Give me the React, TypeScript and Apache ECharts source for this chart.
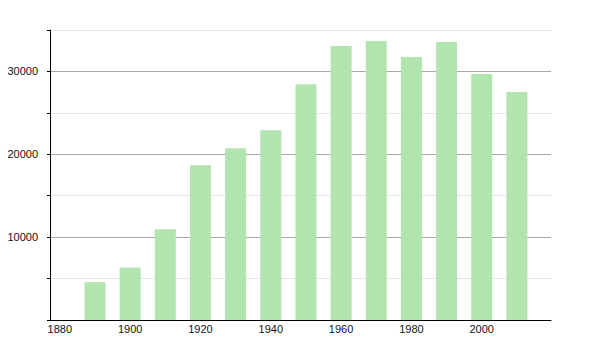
import React, { useEffect, useRef } from "react";
import * as echarts from "echarts";

const years = [1890, 1900, 1910, 1920, 1930, 1940, 1950, 1960, 1970, 1980, 1990, 2000, 2010];
const population = [4570, 6350, 10940, 18680, 20740, 22910, 28440, 33070, 33680, 31740, 33550, 29690, 27510];

export default function App() {
  const ref = useRef<HTMLDivElement>(null);
  useEffect(() => {
    document.body.style.margin = "0";
    if (!ref.current) return;
    const chart = echarts.init(ref.current, null, { renderer: "svg" });
    chart.setOption({
      animation: false,
      grid: { left: 50, right: 49, top: 30, bottom: 30, containLabel: false },
      xAxis: {
        type: "value",
        min: 1877.2,
        max: 2019.7,
        minInterval: 20,
        maxInterval: 20,
        axisLine: { show: true, onZero: false, lineStyle: { color: "#000", width: 1 } },
        axisTick: { show: false },
        splitLine: { show: false },
        axisLabel: {
          color: "#111",
          fontSize: 11,
          fontFamily: "Liberation Sans, Arial, sans-serif",
          margin: 3,
          showMinLabel: true,
          showMaxLabel: true,
          formatter: (v: number) => (Math.abs(v % 20) < 1e-6 ? String(v) : ""),
        },
      },
      yAxis: {
        type: "value",
        min: 0,
        max: 35000,
        interval: 5000,
        axisLine: { show: true, lineStyle: { color: "#000", width: 1 } },
        axisTick: { show: true, length: 3, lineStyle: { color: "#000" } },
        splitLine: { show: true, lineStyle: { color: ["#a8a8a8", "#e4e4e4"], width: 1 } },
        axisLabel: {
          color: "#111",
          fontSize: 11,
          fontFamily: "Liberation Sans, Arial, sans-serif",
          margin: 12,
          formatter: (v: number) => (v > 0 && v % 10000 === 0 ? String(v) : ""),
        },
      },
      series: [
        {
          type: "bar",
          data: years.map((y, i) => [y, population[i]]),
          barWidth: 21,
          itemStyle: { color: "#b2e4b0" },
        },
      ],
    });
    return () => chart.dispose();
  }, []);
  return <div ref={ref} style={{ width: 600, height: 350 }} />;
}
